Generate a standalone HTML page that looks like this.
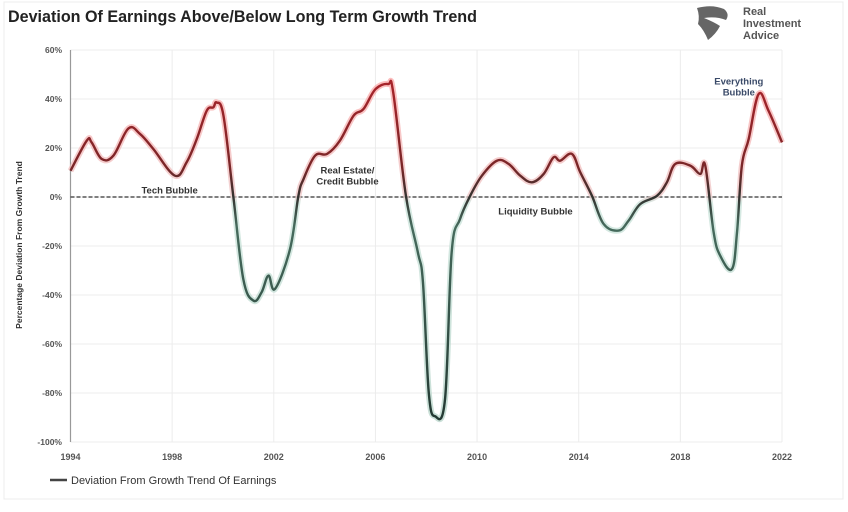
<!DOCTYPE html>
<html><head><meta charset="utf-8"><style>
body{margin:0;background:#fff;width:848px;height:507px;overflow:hidden;font-family:"Liberation Sans",sans-serif}
</style></head><body>
<svg id="chart" width="848" height="507" viewBox="0 0 848 507" xmlns="http://www.w3.org/2000/svg">
<defs>
<linearGradient id="lg" gradientUnits="userSpaceOnUse" x1="0" y1="50" x2="0" y2="442">
<stop offset="0" stop-color="#b8232b"/>
<stop offset="0.30" stop-color="#7a2628"/>
<stop offset="0.375" stop-color="#333330"/>
<stop offset="0.45" stop-color="#466b5d"/>
<stop offset="1" stop-color="#20342e"/>
</linearGradient>
<linearGradient id="glow" gradientUnits="userSpaceOnUse" x1="0" y1="50" x2="0" y2="442">
<stop offset="0" stop-color="#ff9a9a"/>
<stop offset="0.37" stop-color="#ecc0c0"/>
<stop offset="0.39" stop-color="#c4e0d6"/>
<stop offset="1" stop-color="#b0d0c4"/>
</linearGradient>
</defs>
<rect x="4" y="2" width="839" height="497" fill="none" stroke="#ececec" stroke-width="1"/>
<text x="8" y="22" font-size="16.5" font-weight="bold" fill="#222" textLength="469" lengthAdjust="spacingAndGlyphs">Deviation Of Earnings Above/Below Long Term Growth Trend</text>
<g>
<path d="M697 8 Q712 4 724 9 Q730 14 726 20 Q716 16 704 18 Q714 22 720 26 Q716 34 708 40 Q704 30 698 24 Q700 16 697 8Z" fill="#666"/>
<text x="743" y="15" font-size="11" font-weight="bold" fill="#555">Real</text>
<text x="743" y="27" font-size="11" font-weight="bold" fill="#555">Investment</text>
<text x="743" y="39" font-size="11" font-weight="bold" fill="#555">Advice</text>
</g>
<g id="grid"></g>
<g id="axes"></g>
<g id="series"></g>
<g id="annotations"></g>
<g>
<line x1="50" y1="480" x2="67" y2="480" stroke="#444" stroke-width="2.5"/>
<text x="71" y="484" font-size="11" fill="#333">Deviation From Growth Trend Of Earnings</text>
</g>
<text transform="translate(22,245) rotate(-90)" text-anchor="middle" font-size="8.5" font-weight="bold" fill="#333">Percentage Deviation From Growth Trend</text>
</svg>
<script>
const years = [1994.0,1994.64,1994.83,1995.23,1995.69,1996.28,1996.74,1997.26,1998.11,1998.57,1998.97,1999.36,1999.62,1999.75,2000.02,2000.41,2000.8,2001.2,2001.52,2001.79,2002.05,2002.64,2002.97,2003.17,2003.63,2004.1,2004.6,2005.14,2005.53,2006.0,2006.5,2006.7,2007.2,2007.67,2007.87,2008.1,2008.35,2008.74,2009.0,2009.33,2009.73,2010.19,2010.78,2011.24,2011.7,2012.16,2012.62,2013.01,2013.27,2013.73,2014.06,2014.52,2014.98,2015.57,2015.96,2016.42,2017.08,2017.47,2017.8,2018.39,2018.78,2018.98,2019.31,2019.57,2020.03,2020.23,2020.42,2020.69,2021.08,2021.47,2022.0];
const values = [10.7,23.0,22.3,15.5,16.9,28.0,25.7,19.6,8.7,14.2,23.7,35.2,36.6,38.6,33.2,0,-33.5,-42.3,-38.9,-32.1,-37.5,-21.2,0.5,7.3,16.9,17.6,23,33.2,35.9,44,46.1,42.7,0.5,-22.6,-34.8,-80,-89.5,-82.4,-22.6,-9,0.5,8.7,14.8,13.5,8.7,6,9.4,16.2,14.8,17.6,10.1,0.5,-11,-13.7,-9.7,-2.9,0.5,6,13.5,12.8,9.4,12.8,-14.4,-24,-29.4,-14.4,12.8,23.7,42,35.2,22.3];
const yTicks = [60,40,20,0,-20,-40,-60,-80,-100];
const xTicks = [1994,1998,2002,2006,2010,2014,2018,2022];
const annotations = [
 {label:["Tech Bubble"], year:1997.9, val:1.5, color:"#333"},
 {label:["Real Estate/","Credit Bubble"], year:2004.9, val:9.5, color:"#333"},
 {label:["Liquidity Bubble"], year:2012.3, val:-7.2, color:"#333"},
 {label:["Everything","Bubble"], year:2020.3, val:46, color:"#3a4a68"}
];
const NS="http://www.w3.org/2000/svg";
const X0=70.5,X1=782,Y0=50,Y1=442;
function xs(y){return X0+(y-1994)/(2022-1994)*(X1-X0);}
function ys(v){return Y0+(60-v)/160*(Y1-Y0);}
function mk(t,a,parent){const e=document.createElementNS(NS,t);for(const k in a)e.setAttribute(k,a[k]);parent.appendChild(e);return e;}
const grid=document.getElementById('grid'),axes=document.getElementById('axes'),series=document.getElementById('series'),ann=document.getElementById('annotations');
yTicks.forEach(v=>{
 const l=mk('line',{x1:X0,x2:X1,y1:ys(v),y2:ys(v),stroke:'#ececec','stroke-width':1},grid);
 
 
 const t=mk('text',{x:62,y:ys(v)+3,'text-anchor':'end','font-size':8.5,'font-weight':'bold',fill:'#555'},axes);
 t.textContent=v+'%';
 
 
});
xTicks.forEach(y=>{
 const l=mk('line',{x1:xs(y),x2:xs(y),y1:Y0,y2:Y1,stroke:'#ececec','stroke-width':1},grid);
 
 
 const t=mk('text',{x:xs(y),y:460,'text-anchor':'middle','font-size':9,'font-weight':'bold',fill:'#555'},axes);
 t.textContent=y;
 
 
});
const ax=mk('line',{x1:X0,x2:X0,y1:Y0,y2:Y1,stroke:'#999','stroke-width':1.2},axes);


const zl=mk('line',{x1:X0,x2:X1,y1:ys(0),y2:ys(0),stroke:'#333','stroke-width':1.2,'stroke-dasharray':'4,2'},axes);


const pts=years.map((y,i)=>[xs(y),ys(values[i])]);
let d='M'+pts[0][0]+','+pts[0][1];
for(let i=0;i<pts.length-1;i++){
 const p0=pts[Math.max(i-1,0)],p1=pts[i],p2=pts[i+1],p3=pts[Math.min(i+2,pts.length-1)];
 const k=0.18;
 d+=' C'+(p1[0]+(p2[0]-p0[0])*k)+','+(p1[1]+(p2[1]-p0[1])*k)+' '+(p2[0]-(p3[0]-p1[0])*k)+','+(p2[1]-(p3[1]-p1[1])*k)+' '+p2[0]+','+p2[1];
}
const g=mk('path',{d:d,fill:'none',stroke:'url(#glow)','stroke-width':6,'stroke-linejoin':'round',opacity:0.7},series);


const ln=mk('path',{d:d,fill:'none',stroke:'url(#lg)','stroke-width':2.4,'stroke-linejoin':'round'},series);


annotations.forEach(a=>{
 a.label.forEach((s,j)=>{
  const t=mk('text',{x:xs(a.year),y:ys(a.val)+j*11,'text-anchor':'middle','font-size':9.5,'font-weight':'bold',fill:a.color},ann);
  t.textContent=s;
  
  
 });
});
</script>
</body></html>
